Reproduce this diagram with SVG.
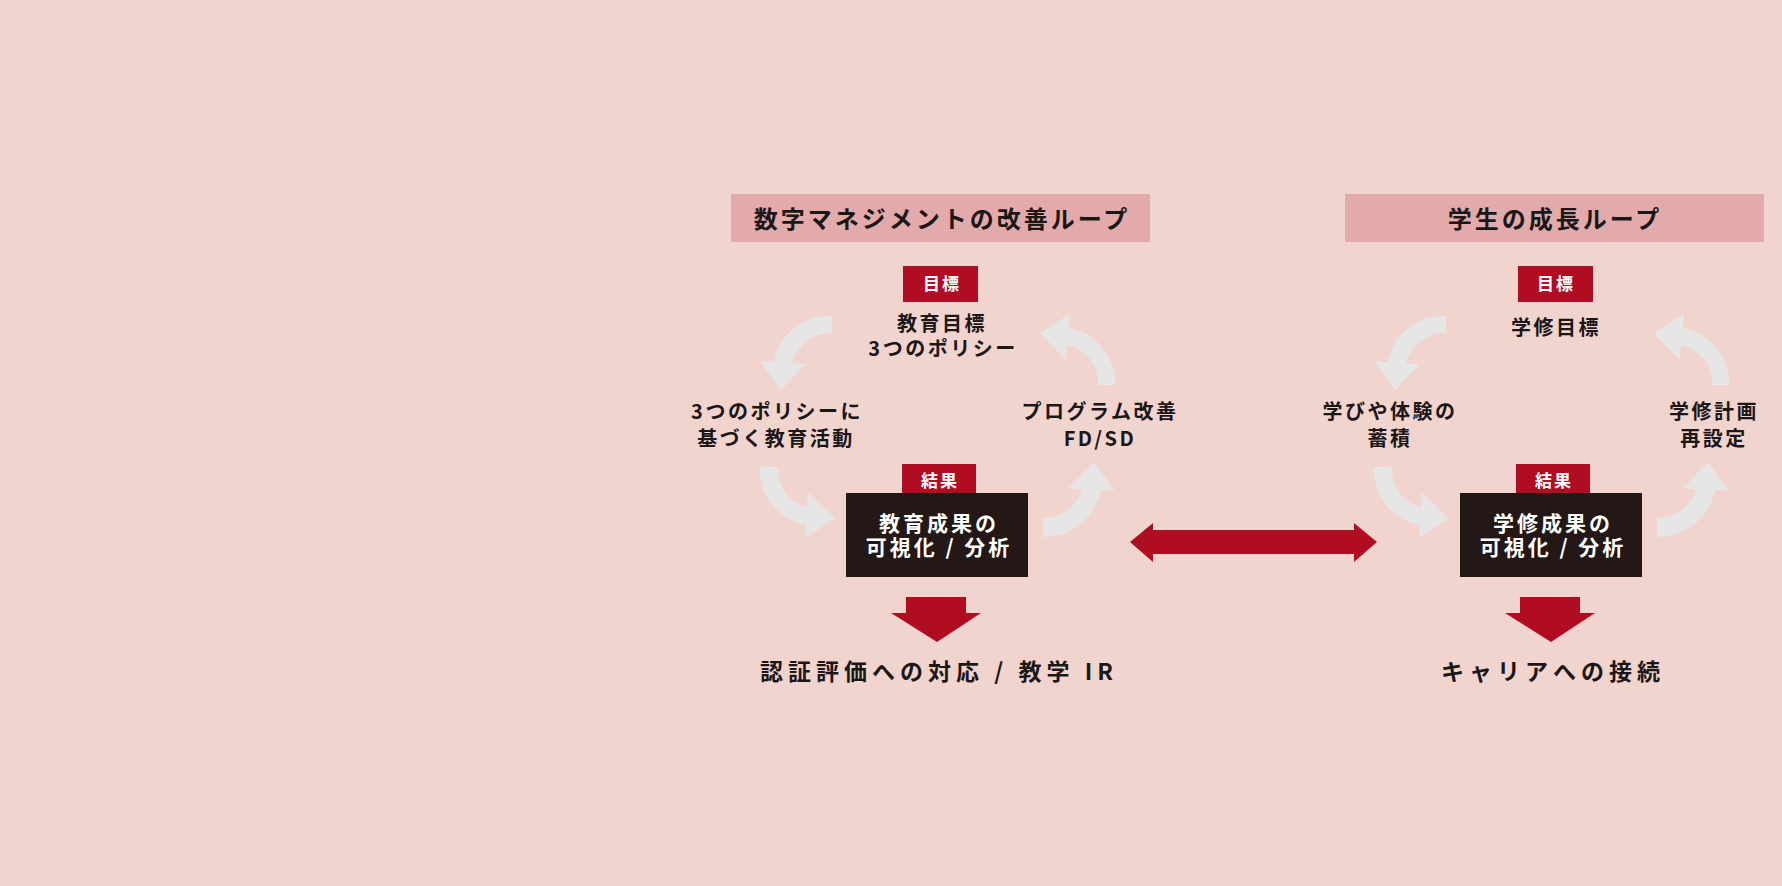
<svg xmlns="http://www.w3.org/2000/svg" width="1782" height="886" viewBox="0 0 1782 886">
<defs>
<style>
.t{font-family:"Noto Sans CJK JP","Noto Sans",sans-serif;font-weight:700;text-anchor:middle;fill:#1c1717}
.title{font-size:24px;letter-spacing:3px}
.lbl{font-size:17px;letter-spacing:2px;fill:#fff}
.mid{font-size:20px;letter-spacing:2.5px}
.box{font-size:21px;letter-spacing:3px;fill:#fff}
.out{font-size:23px;letter-spacing:5px}
.tbox{fill:#e3aaab}
.red{fill:#b00d23}
.dark{fill:#231815}
.loop{fill:#e6e6e6}
</style>
<g id="loopArrows">
<path class="loop" d="M 832 316 A 56 56 0 0 0 774 362 L 760 361 L 781 390 L 806 364 L 792 363 A 40 40 0 0 1 832 333 Z"/>
<path class="loop" d="M 1115 385 A 56 56 0 0 0 1069 328 L 1070 314 L 1040 333 L 1066 360 L 1067 345 A 38 38 0 0 1 1098 385 Z"/>
<path class="loop" d="M 760 467 A 56 56 0 0 0 806 525 L 805 538 L 835 518 L 808 493 L 807 507 A 38 38 0 0 1 778 467 Z"/>
<path class="loop" d="M 1043 537 A 58 58 0 0 0 1101 490 L 1115 491 L 1094 462 L 1069 488 L 1082 490 A 40 40 0 0 1 1043 518 Z"/>
</g>
</defs>
<rect width="1782" height="886" fill="#f2d4cf"/>

<g id="connectors">
<use href="#loopArrows"/>
<use href="#loopArrows" transform="translate(614,0)"/>
<path class="red" d="M 906 597 L 966 597 L 966 613 L 981 613 L 937 642 L 891 613 L 906 613 Z"/>
<path class="red" d="M 1520 597 L 1580 597 L 1580 613 L 1595 613 L 1551 642 L 1505 613 L 1520 613 Z"/>
<path class="red" d="M 1130 542 L 1153 523 L 1153 530 L 1354 530 L 1354 523 L 1377 542 L 1354 562 L 1354 554 L 1153 554 L 1153 562 Z"/>
</g>

<g id="title-left">
<rect class="tbox" x="731" y="194" width="419" height="48"/>
<text class="t title" x="942" y="228">数字マネジメントの改善ループ</text>
</g>
<g id="title-right">
<rect class="tbox" x="1345" y="194" width="419" height="48"/>
<text class="t title" x="1555" y="228">学生の成長ループ</text>
</g>

<g id="goal-left">
<rect class="red" x="903" y="266" width="75" height="36"/>
<text class="t lbl" x="942" y="290">目標</text>
<text class="t mid" x="942" y="331">教育目標</text>
<text class="t mid" x="943" y="356">3つのポリシー</text>
</g>
<g id="activity-left">
<text class="t mid" x="777" y="419">3つのポリシーに</text>
<text class="t mid" x="776" y="446">基づく教育活動</text>
</g>
<g id="improve-left">
<text class="t mid" x="1100" y="419">プログラム改善</text>
<text class="t mid" x="1100" y="446">FD/SD</text>
</g>
<g id="result-left">
<rect class="red" x="902" y="464" width="74" height="29"/>
<text class="t lbl" x="940" y="487">結果</text>
<rect class="dark" x="846" y="493" width="182" height="84"/>
<text class="t box" x="939" y="531">教育成果の</text>
<text class="t box" x="939" y="555">可視化 / 分析</text>
</g>
<g id="output-left">
<text class="t out" x="939" y="680">認証評価への対応 / 教学 IR</text>
</g>

<g id="goal-right">
<rect class="red" x="1518" y="266" width="75" height="36"/>
<text class="t lbl" x="1556" y="290">目標</text>
<text class="t mid" x="1556" y="335">学修目標</text>
</g>
<g id="activity-right">
<text class="t mid" x="1390" y="419">学びや体験の</text>
<text class="t mid" x="1390" y="446">蓄積</text>
</g>
<g id="improve-right">
<text class="t mid" x="1714" y="419">学修計画</text>
<text class="t mid" x="1714" y="446">再設定</text>
</g>
<g id="result-right">
<rect class="red" x="1516" y="464" width="74" height="29"/>
<text class="t lbl" x="1554" y="487">結果</text>
<rect class="dark" x="1460" y="493" width="182" height="84"/>
<text class="t box" x="1553" y="531">学修成果の</text>
<text class="t box" x="1553" y="555">可視化 / 分析</text>
</g>
<g id="output-right">
<text class="t out" x="1553" y="680">キャリアへの接続</text>
</g>
</svg>
